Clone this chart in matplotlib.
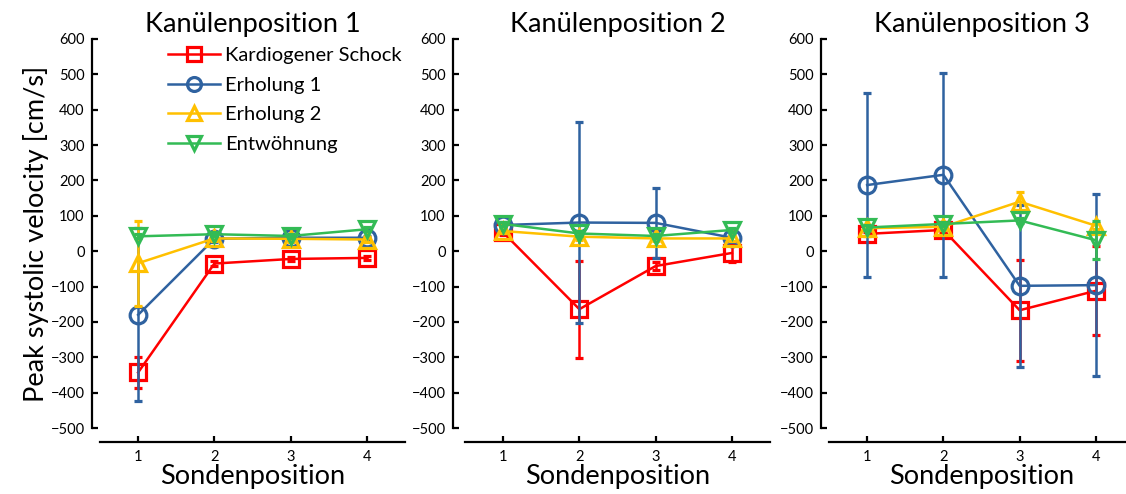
import numpy as np
import matplotlib
matplotlib.use("Agg")
import matplotlib.pyplot as plt
from matplotlib.lines import Line2D

plt.rcParams['font.family'] = ['Lato', 'DejaVu Sans']

# probe positions on the x axis
sonden = [1, 2, 3, 4]
panel_titles = ["Kanülenposition 1", "Kanülenposition 2", "Kanülenposition 3"]
series_names = ["Kardiogener Schock", "Erholung 1", "Erholung 2", "Entwöhnung"]

# mean peak systolic velocity [cm/s], one row per cannula position
schock_mean = [[-343, -35, -22, -19], [53, -164, -42, -5], [49, 60, -167, -112]]
schock_sd = [[43, 6, 5, 5], [8, 137, 10, 27], [6, 6, 143, 126]]
erholung1_mean = [[-180, 35, 38, 38], [74, 81, 80, 38], [187, 216, -98, -96]]
erholung1_sd = [[245, 8, 6, 6], [8, 283, 100, 12], [261, 288, 229, 257]]
erholung2_mean = [[-34, 36, 35, 33], [57, 41, 36, 36], [65, 69, 140, 72]]
erholung2_sd = [[120, 8, 8, 8], [6, 8, 8, 8], [6, 8, 28, 8]]
entwoehnung_mean = [[42, 48, 43, 62], [77, 50, 43, 60], [67, 77, 87, 31]]
entwoehnung_sd = [[6, 6, 6, 6], [6, 6, 6, 6], [6, 6, 8, 54]]

y_ticks = list(range(-500, 601, 100))

colors = ["#FF0000", "#2F62A0", "#FFC000", "#33BB55"]
markers = ["s", "o", "^", "v"]
means = [schock_mean, erholung1_mean, erholung2_mean, entwoehnung_mean]
sds = [schock_sd, erholung1_sd, erholung2_sd, entwoehnung_sd]

W, H = 1126, 494
fig = plt.figure(figsize=(W / 100, H / 100), dpi=100)

lefts = [100, 465, 829]
ax_w, ax_top, ax_bot = 305, 39, 428
y_offsets = [6, 9, 6]

for p in range(3):
    ax = fig.add_axes([lefts[p] / W, (H - ax_bot) / H, ax_w / W, (ax_bot - ax_top) / H])
    ax.patch.set_alpha(0)
    for s in range(4):
        ax.errorbar(sonden, means[s][p], yerr=sds[s][p], color=colors[s],
                    marker=markers[s], markersize=12, markeredgewidth=2.3,
                    markerfacecolor="none", linewidth=1.8, elinewidth=1.8,
                    capsize=3, capthick=1.8, zorder=3 + s)
    ax.set_xlim(0.5, 4.5)
    ax.set_ylim(-500, 600)
    ax.set_xticks(sonden)
    ax.set_yticks(y_ticks)
    ax.set_yticklabels([str(v).replace("-", "\u2212") for v in y_ticks])
    for side in ("top", "right"):
        ax.spines[side].set_visible(False)
    ax.spines["left"].set_position(("outward", y_offsets[p]))
    ax.spines["bottom"].set_position(("outward", 10))
    for side in ("left", "bottom"):
        ax.spines[side].set_linewidth(1.6)
    ax.tick_params(direction="in", length=4, width=1.6, labelsize=10.5, colors="black")
    ax.tick_params(axis="y", pad=5)
    ax.tick_params(axis="x", pad=6)
    ax.set_title(panel_titles[p], fontsize=19.5, pad=5)
    ax.set_xlabel("Sondenposition", fontsize=19.5, labelpad=0)
    if p == 0:
        ax.set_ylabel("Peak systolic velocity [cm/s]", fontsize=19.5, labelpad=1)
        handles = [Line2D([], [], color=colors[s], marker=markers[s], markersize=10,
                          markeredgewidth=2.3, markerfacecolor="none", linewidth=1.8)
                   for s in range(4)]
        ax.legend(handles, series_names, loc="upper left", bbox_to_anchor=(0.19, 1.005),
                  frameon=False, fontsize=14.5, handlelength=2.6, handletextpad=0.25,
                  labelspacing=0.62, borderaxespad=0.1)

fig.savefig("out.png", dpi=100)
